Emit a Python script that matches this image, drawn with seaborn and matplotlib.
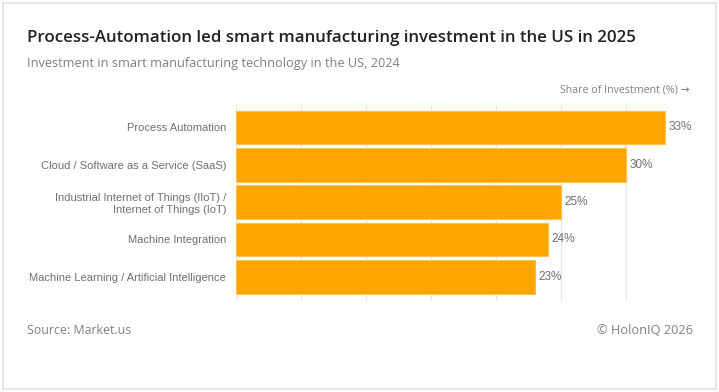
#! /usr/bin/env python3
'''
Smart manufacturing investment share, horizontal bars
'''

import matplotlib.pyplot as plt
from matplotlib.patches import Rectangle
import pandas as pd
import seaborn as sns

# data
CATEGORIES = [
    'Process Automation',
    'Cloud / Software as a Service (SaaS)',
    'Industrial Internet of Things (IIoT) /\nInternet of Things (IoT)',
    'Machine Integration',
    'Machine Learning / Artificial Intelligence',
]
SHARES = [33, 30, 25, 24, 23]
XTICKS = [0, 5, 10, 15, 20, 25, 30]

ORANGE = '#FFA500'
GRAY = '#707070'
TEXT_FONT = ['Open Sans', 'DejaVu Sans']
AXIS_FONT = ['Liberation Sans', 'DejaVu Sans']

sns.set_style('white')
plt.rcParams['font.family'] = AXIS_FONT

df = pd.DataFrame({'category': CATEGORIES, 'share': SHARES})

fig = plt.figure(figsize=(7.19, 3.92), dpi=100)
ax = fig.add_axes([236 / 719, 1 - 301 / 392, (691 - 236) / 719, (301 - 105) / 392])

sns.barplot(data=df, x='share', y='category', color=ORANGE, width=0.9,
            edgecolor='#FFC04D', linewidth=0.8, saturation=1, ax=ax, zorder=2)

ax.set_xlim(0, 35)
ax.set_ylim(4.65, -0.6)
ax.set_xticks(XTICKS)
ax.set_xticklabels([])
ax.tick_params(axis='x', length=0)
ax.grid(axis='x', color='#E6E6E6', linewidth=1, zorder=0)
ax.set_axisbelow(True)
ax.tick_params(axis='y', length=5, width=0.8, color=GRAY, labelcolor=GRAY,
               labelsize=8.0, pad=2)
ax.set_xlabel('')
ax.set_ylabel('')
for s in ax.spines.values():
    s.set_visible(False)

for i, v in enumerate(SHARES):
    ax.annotate(f'{v}%', (v, i), xytext=(2.5, 0), textcoords='offset points',
                va='center', ha='left', fontsize=8.5, color=GRAY)

# texts
fig.text(27 / 719, 1 - 38 / 392, 'Process-Automation led smart manufacturing investment in the US in 2025',
         family=TEXT_FONT, fontsize=12.2, fontweight='semibold', color='#222222', va='center')
fig.text(27 / 719, 1 - 63 / 392, 'Investment in smart manufacturing technology in the US, 2024',
         family=TEXT_FONT, fontsize=9.2, color='#808080', va='center')
fig.text(690 / 719, 1 - 90 / 392, 'Share of Investment (%) \u2192',
         family=TEXT_FONT, fontsize=7.7, color='#808080', va='center', ha='right')
fig.text(27 / 719, 1 - 330 / 392, 'Source: Market.us',
         family=TEXT_FONT, fontsize=8.9, color='#808080', va='center')
fig.text(693 / 719, 1 - 330 / 392, '\u00a9 HolonIQ 2026',
         family=TEXT_FONT, fontsize=9.2, color='#808080', va='center', ha='right')

fig.patches.append(Rectangle((3 / 719, 3 / 392), 713 / 719, 386 / 392,
                             transform=fig.transFigure, fill=False,
                             edgecolor='#E0E0E0', linewidth=1.2))

fig.savefig('out.png', dpi=100)
